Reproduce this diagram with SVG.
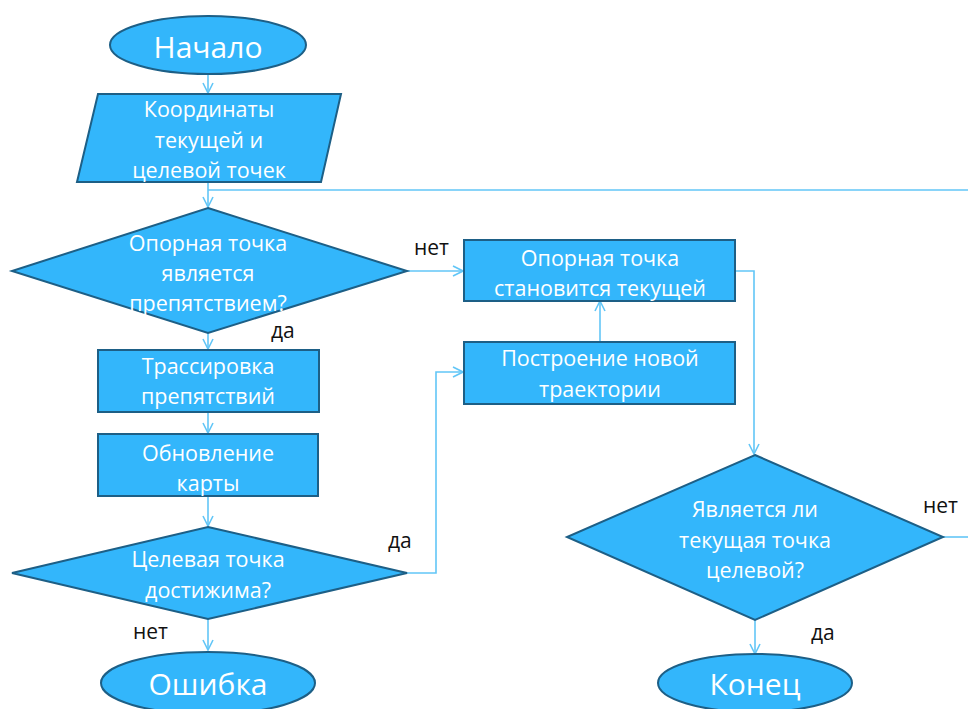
<svg xmlns="http://www.w3.org/2000/svg" width="968" height="709" viewBox="0 0 968 709">
<style>
.n{fill:#33b6fb;stroke:#1d5f86;stroke-width:2}
.t{fill:#ffffff;font-family:"Open Sans","Noto Sans",sans-serif;font-size:21.5px;text-anchor:middle;dominant-baseline:central}
.big{font-size:30px}
.c{fill:none;stroke:#62c6f7;stroke-width:1.6}
.a{marker-end:url(#ar)}
.l{fill:#111111;font-family:"Open Sans","Noto Sans",sans-serif;font-size:21px;dominant-baseline:central}
</style>
<defs>
<marker id="ar" viewBox="0 0 12 12" refX="11" refY="6" markerWidth="12" markerHeight="12" markerUnits="userSpaceOnUse" orient="auto">
<path d="M1,1 L11,6 L1,11" fill="none" stroke="#62c6f7" stroke-width="1.6"/>
</marker>
</defs>
<g id="connectors">
<path class="c a" d="M208,73 V93"/>
<path class="c a" d="M208,182 V207"/>
<path class="c" d="M208,190 H968"/>
<path class="c a" d="M407,271 H463"/>
<path class="c a" d="M208,333 V349"/>
<path class="c a" d="M208,412 V433"/>
<path class="c a" d="M208,496 V526"/>
<path class="c a" d="M208,619 V650"/>
<path class="c a" d="M407,573 H436 V372 H463"/>
<path class="c a" d="M600,342 V301"/>
<path class="c a" d="M735,271 H754 V454"/>
<path class="c" d="M943,537 H968"/>
<path class="c a" d="M755,620 V654"/>
<text class="l" x="414" y="247">нет</text>
<text class="l" x="271" y="330">да</text>
<text class="l" x="388" y="540">да</text>
<text class="l" x="133" y="631">нет</text>
<text class="l" x="923" y="505">нет</text>
<text class="l" x="811" y="632">да</text>
</g>
<g id="start">
<ellipse class="n" cx="208" cy="45" rx="98" ry="29"/>
<text class="t big" x="208" y="46">Начало</text>
</g>
<g id="input">
<polygon class="n" points="98,94 341,94 321,182 77,182"/>
<text class="t" x="209" y="108">Координаты</text>
<text class="t" x="209" y="139">текущей и</text>
<text class="t" x="209" y="169">целевой точек</text>
</g>
<g id="decision1">
<polygon class="n" points="208,208 407,271 208,333 12,271"/>
<text class="t" x="208" y="242">Опорная точка</text>
<text class="t" x="208" y="272">является</text>
<text class="t" x="208" y="302">препятствием?</text>
</g>
<g id="trace">
<rect class="n" x="98" y="350" width="221" height="62"/>
<text class="t" x="208" y="365">Трассировка</text>
<text class="t" x="208" y="395">препятствий</text>
</g>
<g id="update">
<rect class="n" x="98" y="434" width="220" height="62"/>
<text class="t" x="208" y="452">Обновление</text>
<text class="t" x="208" y="482">карты</text>
</g>
<g id="decision2">
<polygon class="n" points="208,527 407,573 208,619 12,573"/>
<text class="t" x="208" y="558">Целевая точка</text>
<text class="t" x="208" y="589">достижима?</text>
</g>
<g id="error">
<ellipse class="n" cx="208" cy="683" rx="107" ry="31"/>
<text class="t big" x="208" y="683">Ошибка</text>
</g>
<g id="becomeCurrent">
<rect class="n" x="464" y="240" width="271" height="61"/>
<text class="t" x="600" y="257">Опорная точка</text>
<text class="t" x="600" y="287">становится текущей</text>
</g>
<g id="newPath">
<rect class="n" x="464" y="342" width="271" height="62"/>
<text class="t" x="600" y="357">Построение новой</text>
<text class="t" x="600" y="388">траектории</text>
</g>
<g id="decision3">
<polygon class="n" points="755,455 943,537 755,620 567,537"/>
<text class="t" x="755" y="508">Является ли</text>
<text class="t" x="755" y="539">текущая точка</text>
<text class="t" x="755" y="569">целевой?</text>
</g>
<g id="end">
<ellipse class="n" cx="755" cy="683" rx="97" ry="29"/>
<text class="t big" x="755" y="683">Конец</text>
</g>
</svg>
